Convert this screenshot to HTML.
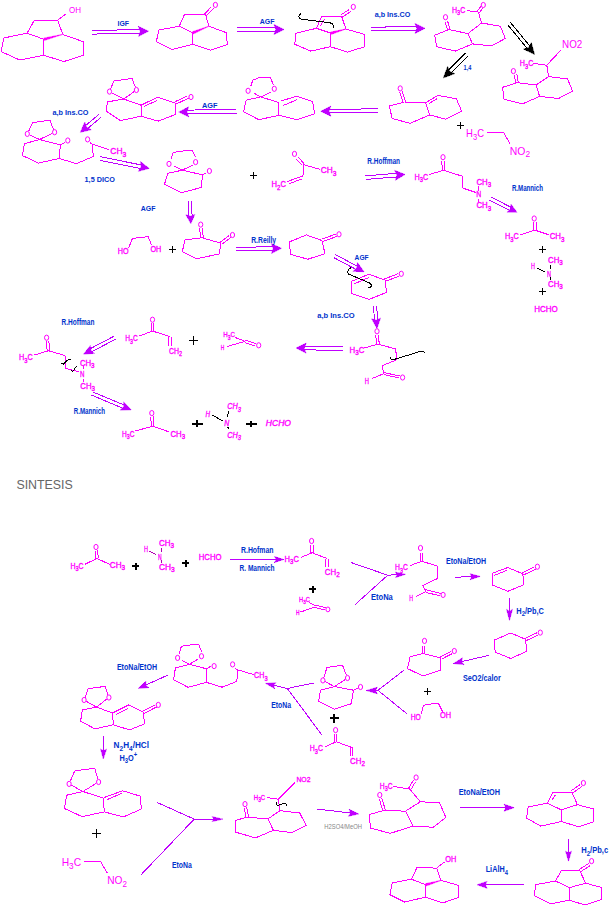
<!DOCTYPE html>
<html><head><meta charset="utf-8"><style>
html,body{margin:0;padding:0;background:#fff;width:610px;height:906px;overflow:hidden}
svg{display:block}
text{font-family:"Liberation Sans",sans-serif}
</style></head><body>
<svg width="610" height="906" viewBox="0 0 610 906" shape-rendering="crispEdges">
<polyline points="27,33.2 34.4,20.2 57.8,20.2 62.7,34.4" fill="none" stroke="#ff00ff" stroke-width="1.0" stroke-linejoin="round"/>
<line x1="27" y1="33.2" x2="44" y2="39.3" stroke="#ff00ff" stroke-width="1.0"/>
<polygon points="62.7,34.4 43.7,38.14 44.3,40.46" fill="#ff00ff" stroke="#ff00ff" stroke-width="0.6" stroke-linejoin="round"/>
<line x1="44" y1="39.3" x2="43.5" y2="55.3" stroke="#ff00ff" stroke-width="1.0"/>
<polyline points="27,33.2 3.7,38 1.2,51.6 19.7,60 43.5,55.3" fill="none" stroke="#ff00ff" stroke-width="1.0" stroke-linejoin="round"/>
<polyline points="62.7,34.4 83.6,41.8 83.6,55.3 64,61.5 43.5,55.3" fill="none" stroke="#ff00ff" stroke-width="1.0" stroke-linejoin="round"/>
<line x1="57.8" y1="20.2" x2="66.4" y2="13.5" stroke="#ff00ff" stroke-width="1.0"/>
<text x="69" y="12.92" font-size="9.5" fill="#ff00ff" font-weight="normal" font-style="normal" textLength="12" lengthAdjust="spacingAndGlyphs"><tspan dy="0">OH</tspan></text>
<line x1="92.04" y1="34.1" x2="140.54" y2="33.16" stroke="#c000ff" stroke-width="1.0"/>
<line x1="91.96" y1="30.5" x2="140.47" y2="29.56" stroke="#c000ff" stroke-width="1.0"/>
<polygon points="148.5,31.2 138.6,36.39 140.3,31.36 138.4,26.4" fill="#c000ff" stroke="#c000ff" stroke-width="0.5" stroke-linejoin="round"/>
<text x="117.5" y="25.72" font-size="7.84" fill="#0033cc" font-weight="bold" font-style="normal" textLength="11.5" lengthAdjust="spacingAndGlyphs"><tspan dy="0">IGF</tspan></text>
<polyline points="179.3,26.2 184.3,14.8 205.6,14.8 208.9,26.2" fill="none" stroke="#ff00ff" stroke-width="1.0" stroke-linejoin="round"/>
<line x1="179.3" y1="26.2" x2="193" y2="32.8" stroke="#ff00ff" stroke-width="1.0"/>
<polygon points="208.9,26.2 192.54,31.69 193.46,33.91" fill="#ff00ff" stroke="#ff00ff" stroke-width="0.6" stroke-linejoin="round"/>
<line x1="193" y1="32.8" x2="192.5" y2="44.3" stroke="#ff00ff" stroke-width="1.0"/>
<polyline points="179.3,26.2 159,30 156.3,41.5 172,49.5 192.5,44.3" fill="none" stroke="#ff00ff" stroke-width="1.0" stroke-linejoin="round"/>
<polyline points="208.9,26.2 226.3,32.7 227.3,44.6 210.6,50.2 192.5,44.3" fill="none" stroke="#ff00ff" stroke-width="1.0" stroke-linejoin="round"/>
<line x1="206.54" y1="15.69" x2="213.44" y2="8.39" stroke="#ff00ff" stroke-width="1.0"/>
<line x1="204.66" y1="13.91" x2="211.56" y2="6.61" stroke="#ff00ff" stroke-width="1.0"/>
<ellipse cx="215.4" cy="4.9" rx="2.1" ry="2.6" fill="none" stroke="#ff00ff" stroke-width="1" shape-rendering="auto"/>
<line x1="236.7" y1="31.3" x2="276" y2="31.3" stroke="#c000ff" stroke-width="1.0"/>
<line x1="236.7" y1="27.7" x2="276" y2="27.7" stroke="#c000ff" stroke-width="1.0"/>
<polygon points="284,29.5 274,34.5 275.8,29.5 274,24.5" fill="#c000ff" stroke="#c000ff" stroke-width="0.5" stroke-linejoin="round"/>
<text x="259.7" y="23.82" font-size="7.84" fill="#0033cc" font-weight="bold" font-style="normal" textLength="14.7" lengthAdjust="spacingAndGlyphs"><tspan dy="0">AGF</tspan></text>
<polyline points="316.4,28.3 321.8,16 341.5,16 345.9,29" fill="none" stroke="#ff00ff" stroke-width="1.0" stroke-linejoin="round"/>
<line x1="316.4" y1="28.3" x2="331" y2="33.2" stroke="#ff00ff" stroke-width="1.0"/>
<polygon points="345.9,29 330.67,32.05 331.33,34.35" fill="#ff00ff" stroke="#ff00ff" stroke-width="0.6" stroke-linejoin="round"/>
<line x1="331" y1="33.2" x2="330.4" y2="46.7" stroke="#ff00ff" stroke-width="1.0"/>
<polyline points="316.4,28.3 296,33.2 294.8,44.3 310.7,51.1 330.4,46.7" fill="none" stroke="#ff00ff" stroke-width="1.0" stroke-linejoin="round"/>
<polyline points="345.9,29 364.8,34.4 364.8,46.7 347.6,52.1 330.4,46.7" fill="none" stroke="#ff00ff" stroke-width="1.0" stroke-linejoin="round"/>
<line x1="342.21" y1="17.09" x2="350.71" y2="11.59" stroke="#ff00ff" stroke-width="1.0"/>
<line x1="340.79" y1="14.91" x2="349.29" y2="9.41" stroke="#ff00ff" stroke-width="1.0"/>
<ellipse cx="353.3" cy="6.9" rx="2.1" ry="2.6" fill="none" stroke="#ff00ff" stroke-width="1" shape-rendering="auto"/>
<line x1="324.4" y1="19.2" x2="320.5" y2="25.6" stroke="#ff00ff" stroke-width="1.0"/>
<path d="M300.8,13.8 C298,15.5 298,18.5 301.8,19.2 L329.4,22.7 C333,23.2 334,25 333.8,28.1" fill="none" stroke="#000" stroke-width="1"/>
<line x1="371.02" y1="30.8" x2="417.02" y2="30.2" stroke="#c000ff" stroke-width="1.0"/>
<line x1="370.98" y1="27.2" x2="416.98" y2="26.6" stroke="#c000ff" stroke-width="1.0"/>
<polygon points="425,28.3 415.07,33.43 416.8,28.41 414.94,23.43" fill="#c000ff" stroke="#c000ff" stroke-width="0.5" stroke-linejoin="round"/>
<text x="374.7" y="16.92" font-size="7.84" fill="#0033cc" font-weight="bold" font-style="normal" textLength="35.6" lengthAdjust="spacingAndGlyphs"><tspan dy="0">a,b Ins.CO</tspan></text>
<text x="452" y="12.52" font-size="8.4" fill="#ff00ff" font-weight="normal" font-style="normal" textLength="13.2" lengthAdjust="spacingAndGlyphs" stroke="#ff00ff" stroke-width="0.35"><tspan dy="0">H</tspan><tspan font-size="6.72" dy="2.35">3</tspan><tspan dy="-2.35">C</tspan></text>
<line x1="466.8" y1="10.7" x2="478.3" y2="11.8" stroke="#ff00ff" stroke-width="1.0"/>
<line x1="479.3" y1="12.63" x2="483" y2="8.13" stroke="#ff00ff" stroke-width="1.0"/>
<line x1="477.3" y1="10.97" x2="481" y2="6.47" stroke="#ff00ff" stroke-width="1.0"/>
<ellipse cx="483.3" cy="5" rx="2.1" ry="2.6" fill="none" stroke="#ff00ff" stroke-width="1" shape-rendering="auto"/>
<line x1="478.3" y1="11.8" x2="481.6" y2="23" stroke="#ff00ff" stroke-width="1.0"/>
<polyline points="481.6,23 500.4,26.2 505.3,38.5 491.4,45.9 472.5,43.9 468,33.6 481.6,23" fill="none" stroke="#ff00ff" stroke-width="1.0" stroke-linejoin="round"/>
<polyline points="468,33.6 448.8,29.5 434.8,35.2 436.5,46.7 455.3,51.1 472.5,43.9" fill="none" stroke="#ff00ff" stroke-width="1.0" stroke-linejoin="round"/>
<line x1="445.06" y1="21.68" x2="447.56" y2="29.88" stroke="#ff00ff" stroke-width="1.0"/>
<line x1="447.54" y1="20.92" x2="450.04" y2="29.12" stroke="#ff00ff" stroke-width="1.0"/>
<ellipse cx="445.5" cy="17.2" rx="2.1" ry="2.6" fill="none" stroke="#ff00ff" stroke-width="1" shape-rendering="auto"/>
<line x1="507.61" y1="24.75" x2="527.5" y2="48.77" stroke="#000000" stroke-width="1.0"/>
<line x1="510.39" y1="22.45" x2="530.27" y2="46.47" stroke="#000000" stroke-width="1.0"/>
<polygon points="534.5,54.4 523.63,49.12 528.75,47.45 531.34,42.74" fill="#000000" stroke="#000000" stroke-width="0.5" stroke-linejoin="round"/>
<line x1="465.42" y1="53.23" x2="448.33" y2="70.39" stroke="#000000" stroke-width="1.0"/>
<line x1="467.98" y1="55.77" x2="450.88" y2="72.93" stroke="#000000" stroke-width="1.0"/>
<polygon points="443.4,77.9 447.62,66.58 449.76,71.51 454.7,73.63" fill="#000000" stroke="#000000" stroke-width="0.5" stroke-linejoin="round"/>
<text x="463.6" y="69.82" font-size="7.84" fill="#0033cc" font-weight="bold" font-style="normal" textLength="7.8" lengthAdjust="spacingAndGlyphs"><tspan dy="0">1,4</tspan></text>
<text x="562.1" y="48" font-size="10" fill="#ff00ff" font-weight="normal" font-style="normal" textLength="20.2" lengthAdjust="spacingAndGlyphs"><tspan dy="0">NO2</tspan></text>
<line x1="561.2" y1="49.8" x2="546.8" y2="65.2" stroke="#ff00ff" stroke-width="1.0"/>
<text x="519.8" y="66.32" font-size="8.4" fill="#ff00ff" font-weight="normal" font-style="normal" textLength="13.5" lengthAdjust="spacingAndGlyphs" stroke="#ff00ff" stroke-width="0.35"><tspan dy="0">H</tspan><tspan font-size="6.72" dy="2.35">3</tspan><tspan dy="-2.35">C</tspan></text>
<line x1="533.3" y1="63.4" x2="546.8" y2="65.2" stroke="#ff00ff" stroke-width="1.0"/>
<line x1="546.8" y1="65.2" x2="548.6" y2="76.5" stroke="#ff00ff" stroke-width="1.0"/>
<polyline points="536,85 548.6,76.5 567.5,79 572.6,91 558.5,98.5 539.6,96.4 536,85 517,82.7 502.6,87.3 504.1,99.4 522.5,103.9 539.6,96.4" fill="none" stroke="#ff00ff" stroke-width="1.0" stroke-linejoin="round"/>
<line x1="514.32" y1="74.72" x2="515.72" y2="82.92" stroke="#ff00ff" stroke-width="1.0"/>
<line x1="516.88" y1="74.28" x2="518.28" y2="82.48" stroke="#ff00ff" stroke-width="1.0"/>
<ellipse cx="513.4" cy="71.1" rx="2.1" ry="2.6" fill="none" stroke="#ff00ff" stroke-width="1" shape-rendering="auto"/>
<line x1="110.56" y1="89.01" x2="113.9" y2="80.9" stroke="#ff00ff" stroke-width="1.0"/>
<line x1="113.9" y1="80.9" x2="132" y2="78.5" stroke="#ff00ff" stroke-width="1.0"/>
<line x1="132" y1="78.5" x2="135.4" y2="87.38" stroke="#ff00ff" stroke-width="1.0"/>
<line x1="134.12" y1="91.63" x2="123.8" y2="99" stroke="#ff00ff" stroke-width="1.0"/>
<line x1="123.8" y1="99" x2="111.99" y2="92.89" stroke="#ff00ff" stroke-width="1.0"/>
<ellipse cx="136.4" cy="90" rx="2.1" ry="2.6" fill="none" stroke="#ff00ff" stroke-width="1" shape-rendering="auto"/>
<ellipse cx="109.5" cy="91.6" rx="2.1" ry="2.6" fill="none" stroke="#ff00ff" stroke-width="1" shape-rendering="auto"/>
<polyline points="123.8,99 107.4,101.9 106.2,111.2 120.5,120.6 141,116.2 141,105.2 123.8,99" fill="none" stroke="#ff00ff" stroke-width="1.0" stroke-linejoin="round"/>
<polyline points="141,105.2 157.4,97.3 175.4,103 175.4,114.5 158.2,121.1 141,116.2" fill="none" stroke="#ff00ff" stroke-width="1.0" stroke-linejoin="round"/>
<line x1="144.3" y1="106.3" x2="157.4" y2="100.3" stroke="#ff00ff" stroke-width="1.0"/>
<line x1="175.96" y1="104.17" x2="188.56" y2="98.17" stroke="#ff00ff" stroke-width="1.0"/>
<line x1="174.84" y1="101.83" x2="187.44" y2="95.83" stroke="#ff00ff" stroke-width="1.0"/>
<ellipse cx="191" cy="97" rx="2.1" ry="2.6" fill="none" stroke="#ff00ff" stroke-width="1" shape-rendering="auto"/>
<line x1="236.48" y1="109.5" x2="186.68" y2="110.1" stroke="#c000ff" stroke-width="1.0"/>
<line x1="236.52" y1="113.1" x2="186.72" y2="113.7" stroke="#c000ff" stroke-width="1.0"/>
<polygon points="178.7,112 188.64,106.88 186.9,111.9 188.76,116.88" fill="#c000ff" stroke="#c000ff" stroke-width="0.5" stroke-linejoin="round"/>
<text x="202" y="108.32" font-size="7.84" fill="#0033cc" font-weight="bold" font-style="normal" textLength="15.5" lengthAdjust="spacingAndGlyphs"><tspan dy="0">AGF</tspan></text>
<polyline points="250.8,86.1 252.8,80.1 258.2,78 270.3,77.4 273.6,85.4" fill="none" stroke="#ff00ff" stroke-width="1.0" stroke-linejoin="round"/>
<line x1="254.1" y1="93.2" x2="260.8" y2="96.9" stroke="#ff00ff" stroke-width="1.0"/>
<line x1="260.8" y1="96.9" x2="270.9" y2="92.2" stroke="#ff00ff" stroke-width="1.0"/>
<ellipse cx="248.1" cy="90.8" rx="2.1" ry="2.6" fill="none" stroke="#ff00ff" stroke-width="1" shape-rendering="auto"/>
<ellipse cx="274.3" cy="88.8" rx="2.1" ry="2.6" fill="none" stroke="#ff00ff" stroke-width="1" shape-rendering="auto"/>
<polyline points="260.8,96.9 246.1,100.2 243.6,111.7 258.8,119.7 279,115.3 278.5,102.5 260.8,96.9" fill="none" stroke="#ff00ff" stroke-width="1.0" stroke-linejoin="round"/>
<polyline points="279,115.3 297.1,119.7 314.6,113.7 312.6,101.6 296.5,96.2 280.5,101.2" fill="none" stroke="#ff00ff" stroke-width="1.0" stroke-linejoin="round"/>
<line x1="283" y1="105.6" x2="297.1" y2="99.6" stroke="#ff00ff" stroke-width="1.0"/>
<line x1="377.58" y1="108.8" x2="328.78" y2="109.4" stroke="#c000ff" stroke-width="1.0"/>
<line x1="377.62" y1="112.4" x2="328.82" y2="113" stroke="#c000ff" stroke-width="1.0"/>
<polygon points="320.8,111.3 330.74,106.18 329,111.2 330.86,116.18" fill="#c000ff" stroke="#c000ff" stroke-width="0.5" stroke-linejoin="round"/>
<ellipse cx="400.2" cy="88.4" rx="2.1" ry="2.6" fill="none" stroke="#ff00ff" stroke-width="1" shape-rendering="auto"/>
<line x1="399.77" y1="92.41" x2="403.07" y2="102.41" stroke="#ff00ff" stroke-width="1.0"/>
<line x1="402.23" y1="91.59" x2="405.53" y2="101.59" stroke="#ff00ff" stroke-width="1.0"/>
<polyline points="425.6,102.8 404.3,102 389.5,106 392,118.4 410,123.3 429.7,115 425.6,102.8 437.9,95.4 456.3,98.7 461.6,111 446,119.2 429.7,115" fill="none" stroke="#ff00ff" stroke-width="1.0" stroke-linejoin="round"/>
<line x1="425.6" y1="102.8" x2="437.9" y2="95.4" stroke="#ff00ff" stroke-width="1.0"/>
<line x1="428.68" y1="103.75" x2="437.29" y2="98.57" stroke="#ff00ff" stroke-width="1.0"/>
<line x1="456.9" y1="125.3" x2="463.9" y2="125.3" stroke="#000000" stroke-width="1"/>
<line x1="460.4" y1="121.8" x2="460.4" y2="128.8" stroke="#000000" stroke-width="1"/>
<text x="466.1" y="136.88" font-size="10.5" fill="#ff00ff" font-weight="normal" font-style="normal" textLength="17.9" lengthAdjust="spacingAndGlyphs"><tspan dy="0">H</tspan><tspan font-size="8.4" dy="2.94">3</tspan><tspan dy="-2.94">C</tspan></text>
<polyline points="487.1,132.5 503.7,132.5 509.8,143.5" fill="none" stroke="#ff00ff" stroke-width="1.0" stroke-linejoin="round"/>
<text x="509.8" y="154.61" font-size="10.3" fill="#ff00ff" font-weight="normal" font-style="normal" textLength="20.3" lengthAdjust="spacingAndGlyphs"><tspan dy="0">NO</tspan><tspan font-size="8.24" dy="2.88">2</tspan></text>
<line x1="98.85" y1="114.52" x2="85.3" y2="125.8" stroke="#c000ff" stroke-width="1.0"/>
<line x1="101.15" y1="117.28" x2="87.6" y2="128.56" stroke="#c000ff" stroke-width="1.0"/>
<polygon points="80.3,132.3 84.79,122.06 86.6,127.05 91.18,129.74" fill="#c000ff" stroke="#c000ff" stroke-width="0.5" stroke-linejoin="round"/>
<text x="52.5" y="114.82" font-size="7.84" fill="#0033cc" font-weight="bold" font-style="normal" textLength="36" lengthAdjust="spacingAndGlyphs"><tspan dy="0">a,b Ins.CO</tspan></text>
<line x1="28.53" y1="131.39" x2="32.9" y2="122.5" stroke="#ff00ff" stroke-width="1.0"/>
<line x1="32.9" y1="122.5" x2="49.9" y2="120.3" stroke="#ff00ff" stroke-width="1.0"/>
<line x1="49.9" y1="120.3" x2="53.57" y2="129.6" stroke="#ff00ff" stroke-width="1.0"/>
<line x1="52.08" y1="133.42" x2="39.5" y2="139.5" stroke="#ff00ff" stroke-width="1.0"/>
<line x1="39.5" y1="139.5" x2="29.84" y2="135.07" stroke="#ff00ff" stroke-width="1.0"/>
<ellipse cx="54.6" cy="132.2" rx="2.1" ry="2.6" fill="none" stroke="#ff00ff" stroke-width="1" shape-rendering="auto"/>
<ellipse cx="27.3" cy="133.9" rx="2.1" ry="2.6" fill="none" stroke="#ff00ff" stroke-width="1" shape-rendering="auto"/>
<polyline points="39.5,139.5 24.4,143.7 22.5,155.6 38.6,163.1 59.3,158.4 60.3,144.8 39.5,139.5" fill="none" stroke="#ff00ff" stroke-width="1.0" stroke-linejoin="round"/>
<line x1="60.3" y1="144.8" x2="65" y2="142.4" stroke="#ff00ff" stroke-width="1.0"/>
<ellipse cx="67.8" cy="140.5" rx="2.1" ry="2.6" fill="none" stroke="#ff00ff" stroke-width="1" shape-rendering="auto"/>
<polyline points="59.3,158.4 76.3,163.7 93.3,156.5 92.4,144.2" fill="none" stroke="#ff00ff" stroke-width="1.0" stroke-linejoin="round"/>
<ellipse cx="87.6" cy="139.4" rx="2.1" ry="2.6" fill="none" stroke="#ff00ff" stroke-width="1" shape-rendering="auto"/>
<line x1="92.4" y1="144.2" x2="90.2" y2="142.8" stroke="#ff00ff" stroke-width="1.0"/>
<line x1="92.4" y1="144.2" x2="109.3" y2="149.9" stroke="#ff00ff" stroke-width="1.0"/>
<text x="110.3" y="154.22" font-size="8.4" fill="#ff00ff" font-weight="normal" font-style="normal" textLength="16" lengthAdjust="spacingAndGlyphs" stroke="#ff00ff" stroke-width="0.35"><tspan dy="0">CH</tspan><tspan font-size="6.72" dy="2.35">3</tspan></text>
<line x1="99.64" y1="160.26" x2="141" y2="168.59" stroke="#c000ff" stroke-width="1.0"/>
<line x1="100.36" y1="156.74" x2="141.71" y2="165.06" stroke="#c000ff" stroke-width="1.0"/>
<polygon points="149.2,168.4 138.41,171.33 141.16,166.78 140.38,161.53" fill="#c000ff" stroke="#c000ff" stroke-width="0.5" stroke-linejoin="round"/>
<text x="84.6" y="181.72" font-size="7.84" fill="#0033cc" font-weight="bold" font-style="normal" textLength="30.2" lengthAdjust="spacingAndGlyphs"><tspan dy="0">1,5 DICO</tspan></text>
<polyline points="171.3,159.4 172.6,153.1 178,151.3 192,150.4 195.6,157.2" fill="none" stroke="#ff00ff" stroke-width="1.0" stroke-linejoin="round"/>
<line x1="174.4" y1="166.2" x2="182.1" y2="170.2" stroke="#ff00ff" stroke-width="1.0"/>
<line x1="182.1" y1="170.2" x2="192.5" y2="165.3" stroke="#ff00ff" stroke-width="1.0"/>
<ellipse cx="169" cy="163.9" rx="2.1" ry="2.6" fill="none" stroke="#ff00ff" stroke-width="1" shape-rendering="auto"/>
<ellipse cx="195.6" cy="162.1" rx="2.1" ry="2.6" fill="none" stroke="#ff00ff" stroke-width="1" shape-rendering="auto"/>
<polyline points="182.1,170.2 167.7,173.4 164.5,184.2 181.2,192.8 201.5,187.4 202.4,174.8 182.1,170.2" fill="none" stroke="#ff00ff" stroke-width="1.0" stroke-linejoin="round"/>
<line x1="202.4" y1="174.8" x2="206.5" y2="172.8" stroke="#ff00ff" stroke-width="1.0"/>
<ellipse cx="209.4" cy="171" rx="2.1" ry="2.6" fill="none" stroke="#ff00ff" stroke-width="1" shape-rendering="auto"/>
<line x1="249.9" y1="175" x2="256.9" y2="175" stroke="#000000" stroke-width="1"/>
<line x1="253.4" y1="171.5" x2="253.4" y2="178.5" stroke="#000000" stroke-width="1"/>
<ellipse cx="294.5" cy="153.9" rx="2.1" ry="2.6" fill="none" stroke="#ff00ff" stroke-width="1" shape-rendering="auto"/>
<line x1="295.87" y1="158.71" x2="302.37" y2="165.41" stroke="#ff00ff" stroke-width="1.0"/>
<line x1="297.73" y1="156.89" x2="304.23" y2="163.59" stroke="#ff00ff" stroke-width="1.0"/>
<polyline points="320,169.3 303.7,164.7 303,175.8" fill="none" stroke="#ff00ff" stroke-width="1.0" stroke-linejoin="round"/>
<line x1="303" y1="175.8" x2="287" y2="181.7" stroke="#ff00ff" stroke-width="1.0"/>
<line x1="302.3" y1="178.83" x2="289.5" y2="183.55" stroke="#ff00ff" stroke-width="1.0"/>
<text x="320.7" y="173.32" font-size="8.4" fill="#ff00ff" font-weight="normal" font-style="normal" textLength="15.8" lengthAdjust="spacingAndGlyphs" stroke="#ff00ff" stroke-width="0.35"><tspan dy="0">CH</tspan><tspan font-size="6.72" dy="2.35">3</tspan></text>
<text x="271.6" y="187.42" font-size="8.4" fill="#ff00ff" font-weight="normal" font-style="normal" textLength="14.4" lengthAdjust="spacingAndGlyphs" stroke="#ff00ff" stroke-width="0.35"><tspan dy="0">H</tspan><tspan font-size="6.72" dy="2.35">2</tspan><tspan dy="-2.35">C</tspan></text>
<line x1="365.74" y1="179.39" x2="397.17" y2="176.92" stroke="#c000ff" stroke-width="1.0"/>
<line x1="365.46" y1="175.81" x2="396.88" y2="173.33" stroke="#c000ff" stroke-width="1.0"/>
<polygon points="405,174.5 395.42,180.27 396.83,175.14 394.64,170.3" fill="#c000ff" stroke="#c000ff" stroke-width="0.5" stroke-linejoin="round"/>
<text x="367.3" y="164.23" font-size="8.96" fill="#0033cc" font-weight="bold" font-style="normal" textLength="32.7" lengthAdjust="spacingAndGlyphs"><tspan dy="0">R.Hoffman</tspan></text>
<ellipse cx="443" cy="157.2" rx="2.1" ry="2.6" fill="none" stroke="#ff00ff" stroke-width="1" shape-rendering="auto"/>
<line x1="441.7" y1="160.79" x2="442.4" y2="170.39" stroke="#ff00ff" stroke-width="1.0"/>
<line x1="444.3" y1="160.61" x2="445" y2="170.21" stroke="#ff00ff" stroke-width="1.0"/>
<text x="414.5" y="179.82" font-size="8.4" fill="#ff00ff" font-weight="normal" font-style="normal" textLength="13.7" lengthAdjust="spacingAndGlyphs" stroke="#ff00ff" stroke-width="0.35"><tspan dy="0">H</tspan><tspan font-size="6.72" dy="2.35">3</tspan><tspan dy="-2.35">C</tspan></text>
<polyline points="429.3,174.4 443.7,170.3 462,176.1 463,188.2 476,192.5" fill="none" stroke="#ff00ff" stroke-width="1.0" stroke-linejoin="round"/>
<text x="476.2" y="197.42" font-size="8.4" fill="#ff00ff" font-weight="normal" font-style="normal" textLength="5" lengthAdjust="spacingAndGlyphs" stroke="#ff00ff" stroke-width="0.35"><tspan dy="0">N</tspan></text>
<line x1="478.7" y1="186" x2="478.7" y2="190.5" stroke="#ff00ff" stroke-width="1.0"/>
<line x1="478.7" y1="198.5" x2="478.7" y2="202" stroke="#ff00ff" stroke-width="1.0"/>
<text x="476.4" y="185.02" font-size="8.4" fill="#ff00ff" font-weight="normal" font-style="normal" textLength="14.8" lengthAdjust="spacingAndGlyphs" stroke="#ff00ff" stroke-width="0.35"><tspan dy="0">CH</tspan><tspan font-size="6.72" dy="2.35">3</tspan></text>
<text x="476.4" y="208.42" font-size="8.4" fill="#ff00ff" font-weight="normal" font-style="normal" textLength="14.8" lengthAdjust="spacingAndGlyphs" stroke="#ff00ff" stroke-width="0.35"><tspan dy="0">CH</tspan><tspan font-size="6.72" dy="2.35">3</tspan></text>
<line x1="489.42" y1="200.01" x2="509.82" y2="210.52" stroke="#c000ff" stroke-width="1.0"/>
<line x1="490.98" y1="196.99" x2="511.38" y2="207.49" stroke="#c000ff" stroke-width="1.0"/>
<polygon points="517,212.3 506.94,212.18 510.44,208.92 511.06,204.18" fill="#c000ff" stroke="#c000ff" stroke-width="0.5" stroke-linejoin="round"/>
<text x="511.9" y="191.22" font-size="8.4" fill="#0033cc" font-weight="bold" font-style="normal" textLength="31" lengthAdjust="spacingAndGlyphs"><tspan dy="0">R.Mannich</tspan></text>
<ellipse cx="534.2" cy="218.5" rx="2.1" ry="2.6" fill="none" stroke="#ff00ff" stroke-width="1" shape-rendering="auto"/>
<line x1="533.7" y1="222" x2="533.7" y2="230.2" stroke="#ff00ff" stroke-width="1.0"/>
<line x1="536.3" y1="222" x2="536.3" y2="230.2" stroke="#ff00ff" stroke-width="1.0"/>
<text x="505" y="239.42" font-size="8.4" fill="#ff00ff" font-weight="normal" font-style="normal" textLength="13.8" lengthAdjust="spacingAndGlyphs" stroke="#ff00ff" stroke-width="0.35"><tspan dy="0">H</tspan><tspan font-size="6.72" dy="2.35">3</tspan><tspan dy="-2.35">C</tspan></text>
<polyline points="520.5,234.7 535,230.2 548.7,234.7" fill="none" stroke="#ff00ff" stroke-width="1.0" stroke-linejoin="round"/>
<text x="549.7" y="239.42" font-size="8.4" fill="#ff00ff" font-weight="normal" font-style="normal" textLength="14.8" lengthAdjust="spacingAndGlyphs" stroke="#ff00ff" stroke-width="0.35"><tspan dy="0">CH</tspan><tspan font-size="6.72" dy="2.35">3</tspan></text>
<line x1="539.4" y1="249.5" x2="546.4" y2="249.5" stroke="#000000" stroke-width="1"/>
<line x1="542.9" y1="246" x2="542.9" y2="253" stroke="#000000" stroke-width="1"/>
<text x="531" y="269.12" font-size="8.4" fill="#ff00ff" font-weight="normal" font-style="normal" textLength="3.9" lengthAdjust="spacingAndGlyphs" stroke="#ff00ff" stroke-width="0.35"><tspan dy="0">H</tspan></text>
<line x1="537.2" y1="268.1" x2="544.8" y2="271.7" stroke="#000000" stroke-width="1.0"/>
<text x="546.9" y="277.02" font-size="8.4" fill="#ff00ff" font-weight="normal" font-style="normal" textLength="4" lengthAdjust="spacingAndGlyphs" stroke="#ff00ff" stroke-width="0.35"><tspan dy="0">N</tspan></text>
<line x1="550.7" y1="265.2" x2="550.7" y2="269.4" stroke="#000000" stroke-width="1.0"/>
<line x1="550.7" y1="277" x2="550.7" y2="279.6" stroke="#000000" stroke-width="1.0"/>
<text x="548" y="263.12" font-size="8.4" fill="#ff00ff" font-weight="normal" font-style="normal" textLength="14.8" lengthAdjust="spacingAndGlyphs" stroke="#ff00ff" stroke-width="0.35"><tspan dy="0">CH</tspan><tspan font-size="6.72" dy="2.35">3</tspan></text>
<text x="548" y="287.02" font-size="8.4" fill="#ff00ff" font-weight="normal" font-style="normal" textLength="14.8" lengthAdjust="spacingAndGlyphs" stroke="#ff00ff" stroke-width="0.35"><tspan dy="0">CH</tspan><tspan font-size="6.72" dy="2.35">3</tspan></text>
<line x1="539.4" y1="291.5" x2="546.4" y2="291.5" stroke="#000000" stroke-width="1"/>
<line x1="542.9" y1="288" x2="542.9" y2="295" stroke="#000000" stroke-width="1"/>
<text x="534.2" y="311.72" font-size="8.4" fill="#ff00ff" font-weight="normal" font-style="normal" textLength="23.5" lengthAdjust="spacingAndGlyphs" stroke="#ff00ff" stroke-width="0.35"><tspan dy="0">HCHO</tspan></text>
<text x="140.7" y="210.72" font-size="7.84" fill="#0033cc" font-weight="bold" font-style="normal" textLength="14.7" lengthAdjust="spacingAndGlyphs"><tspan dy="0">AGF</tspan></text>
<line x1="188.15" y1="200.77" x2="188.84" y2="216.48" stroke="#c000ff" stroke-width="1.0"/>
<line x1="191.45" y1="200.63" x2="192.13" y2="216.33" stroke="#c000ff" stroke-width="1.0"/>
<polygon points="190.8,223.6 185.91,214.8 190.48,216.23 194.9,214.41" fill="#c000ff" stroke="#c000ff" stroke-width="0.5" stroke-linejoin="round"/>
<ellipse cx="200.7" cy="224.6" rx="2.1" ry="2.6" fill="none" stroke="#ff00ff" stroke-width="1" shape-rendering="auto"/>
<line x1="199.61" y1="228.15" x2="200.71" y2="237.85" stroke="#ff00ff" stroke-width="1.0"/>
<line x1="202.19" y1="227.85" x2="203.29" y2="237.55" stroke="#ff00ff" stroke-width="1.0"/>
<polyline points="202,237.7 185,240 182.3,251.5 196.4,258.7 219.3,254 221,243.3 202,237.7" fill="none" stroke="#ff00ff" stroke-width="1.0" stroke-linejoin="round"/>
<line x1="221.78" y1="244.34" x2="230.78" y2="237.54" stroke="#ff00ff" stroke-width="1.0"/>
<line x1="220.22" y1="242.26" x2="229.22" y2="235.46" stroke="#ff00ff" stroke-width="1.0"/>
<ellipse cx="232.5" cy="235" rx="2.1" ry="2.6" fill="none" stroke="#ff00ff" stroke-width="1" shape-rendering="auto"/>
<line x1="169.3" y1="249.2" x2="176.3" y2="249.2" stroke="#000000" stroke-width="1"/>
<line x1="172.8" y1="245.7" x2="172.8" y2="252.7" stroke="#000000" stroke-width="1"/>
<text x="117.7" y="253.82" font-size="8.4" fill="#ff00ff" font-weight="normal" font-style="normal" textLength="10.8" lengthAdjust="spacingAndGlyphs" stroke="#ff00ff" stroke-width="0.35"><tspan dy="0">HO</tspan></text>
<polyline points="128.5,248.2 132.5,238.4 148.2,236.7 151.5,245" fill="none" stroke="#ff00ff" stroke-width="1.0" stroke-linejoin="round"/>
<text x="150.5" y="251.92" font-size="8.4" fill="#ff00ff" font-weight="normal" font-style="normal" textLength="10.8" lengthAdjust="spacingAndGlyphs" stroke="#ff00ff" stroke-width="0.35"><tspan dy="0">OH</tspan></text>
<line x1="236.24" y1="251" x2="273.44" y2="250.26" stroke="#c000ff" stroke-width="1.0"/>
<line x1="236.16" y1="247.4" x2="273.37" y2="246.66" stroke="#c000ff" stroke-width="1.0"/>
<polygon points="281.4,248.3 271.5,253.5 273.2,248.46 271.3,243.5" fill="#c000ff" stroke="#c000ff" stroke-width="0.5" stroke-linejoin="round"/>
<text x="251.2" y="242.92" font-size="8.4" fill="#0033cc" font-weight="bold" font-style="normal" textLength="24.9" lengthAdjust="spacingAndGlyphs"><tspan dy="0">R.Reilly</tspan></text>
<polygon points="306.3,234.9 321.9,240.5 325,253.6 307.9,259.2 290.7,254.5 289.2,242" fill="none" stroke="#ff00ff" stroke-width="1.0" stroke-linejoin="round"/>
<line x1="322.34" y1="241.72" x2="336.94" y2="236.42" stroke="#ff00ff" stroke-width="1.0"/>
<line x1="321.46" y1="239.28" x2="336.06" y2="233.98" stroke="#ff00ff" stroke-width="1.0"/>
<ellipse cx="339" cy="234.3" rx="2.1" ry="2.6" fill="none" stroke="#ff00ff" stroke-width="1" shape-rendering="auto"/>
<line x1="333.6" y1="257.5" x2="356.14" y2="269.45" stroke="#c000ff" stroke-width="1.0"/>
<line x1="335.2" y1="254.5" x2="357.73" y2="266.45" stroke="#c000ff" stroke-width="1.0"/>
<polygon points="364,271.7 352.82,271.43 356.76,267.86 357.51,262.6" fill="#c000ff" stroke="#c000ff" stroke-width="0.5" stroke-linejoin="round"/>
<text x="354.6" y="259.52" font-size="7.84" fill="#0033cc" font-weight="bold" font-style="normal" textLength="14" lengthAdjust="spacingAndGlyphs"><tspan dy="0">AGF</tspan></text>
<polygon points="368.8,274.3 385.3,280.1 386.4,292.4 369.3,299.3 351.2,293.4 351.7,281.2" fill="none" stroke="#ff00ff" stroke-width="1.0" stroke-linejoin="round"/>
<line x1="384.67" y1="281.61" x2="399.27" y2="276.01" stroke="#ff00ff" stroke-width="1.0"/>
<line x1="383.73" y1="279.19" x2="398.33" y2="273.59" stroke="#ff00ff" stroke-width="1.0"/>
<ellipse cx="401.3" cy="273.8" rx="2.1" ry="2.6" fill="none" stroke="#ff00ff" stroke-width="1" shape-rendering="auto"/>
<line x1="354.4" y1="283.8" x2="368.8" y2="277.5" stroke="#ff00ff" stroke-width="1.0"/>
<path d="M350.7,267.9 C347,269.5 346.5,273.5 350.1,274.8 L365.6,281.2 C372,283.5 372.5,286.5 370.5,287 L367.7,287" fill="none" stroke="#000" stroke-width="1"/>
<text x="317.2" y="318.12" font-size="7.84" fill="#0033cc" font-weight="bold" font-style="normal" textLength="37.4" lengthAdjust="spacingAndGlyphs"><tspan dy="0">a,b Ins.CO</tspan></text>
<line x1="373.31" y1="305.95" x2="374.67" y2="320.58" stroke="#c000ff" stroke-width="1.0"/>
<line x1="376.49" y1="305.65" x2="377.85" y2="320.29" stroke="#c000ff" stroke-width="1.0"/>
<polygon points="377,328.4 371.59,318.86 376.24,320.24 380.56,318.03" fill="#c000ff" stroke="#c000ff" stroke-width="0.5" stroke-linejoin="round"/>
<ellipse cx="377" cy="331.3" rx="2.1" ry="2.6" fill="none" stroke="#ff00ff" stroke-width="1" shape-rendering="auto"/>
<line x1="375.71" y1="335.35" x2="376.71" y2="344.25" stroke="#ff00ff" stroke-width="1.0"/>
<line x1="378.29" y1="335.05" x2="379.29" y2="343.95" stroke="#ff00ff" stroke-width="1.0"/>
<text x="349.5" y="353.02" font-size="8.4" fill="#ff00ff" font-weight="normal" font-style="normal" textLength="14.8" lengthAdjust="spacingAndGlyphs" stroke="#ff00ff" stroke-width="0.35"><tspan dy="0">H</tspan><tspan font-size="6.72" dy="2.35">3</tspan><tspan dy="-2.35">C</tspan></text>
<polyline points="364.3,348 378,344.1 395.7,349 396.7,359.8 382,365.7 384,373.6" fill="none" stroke="#ff00ff" stroke-width="1.0" stroke-linejoin="round"/>
<line x1="383.79" y1="374.58" x2="399.29" y2="377.98" stroke="#ff00ff" stroke-width="1.0"/>
<line x1="384.21" y1="372.62" x2="399.71" y2="376.02" stroke="#ff00ff" stroke-width="1.0"/>
<ellipse cx="402.6" cy="377.5" rx="2.1" ry="2.6" fill="none" stroke="#ff00ff" stroke-width="1" shape-rendering="auto"/>
<text x="364.8" y="383.52" font-size="8.4" fill="#ff00ff" font-weight="normal" font-style="normal" textLength="4.2" lengthAdjust="spacingAndGlyphs" stroke="#ff00ff" stroke-width="0.35"><tspan dy="0">H</tspan></text>
<line x1="372" y1="378.5" x2="384" y2="373.6" stroke="#ff00ff" stroke-width="1.0"/>
<path d="M389.8,356.9 C390.5,359.5 392,360.3 394,359.5 L418.4,352 C421.5,351 424.5,351.5 425.3,353" fill="none" stroke="#000" stroke-width="1"/>
<line x1="343.42" y1="346.7" x2="304.12" y2="346.28" stroke="#c000ff" stroke-width="1.0"/>
<line x1="343.38" y1="350.3" x2="304.08" y2="349.88" stroke="#c000ff" stroke-width="1.0"/>
<polygon points="296.1,348 306.15,343.11 304.3,348.09 306.05,353.11" fill="#c000ff" stroke="#c000ff" stroke-width="0.5" stroke-linejoin="round"/>
<text x="223.3" y="337.42" font-size="7.84" fill="#ff00ff" font-weight="normal" font-style="normal" textLength="11.7" lengthAdjust="spacingAndGlyphs" stroke="#ff00ff" stroke-width="0.35"><tspan dy="0">H</tspan><tspan font-size="6.27" dy="2.2">3</tspan><tspan dy="-2.2">C</tspan></text>
<text x="220.8" y="350.02" font-size="7.84" fill="#ff00ff" font-weight="normal" font-style="normal" textLength="3.5" lengthAdjust="spacingAndGlyphs" stroke="#ff00ff" stroke-width="0.35"><tspan dy="0">H</tspan></text>
<line x1="227.2" y1="346.5" x2="245" y2="341.3" stroke="#ff00ff" stroke-width="1.0"/>
<line x1="235" y1="337.4" x2="245" y2="341.3" stroke="#ff00ff" stroke-width="1.0"/>
<line x1="244.59" y1="342.53" x2="255.59" y2="346.23" stroke="#ff00ff" stroke-width="1.0"/>
<line x1="245.41" y1="340.07" x2="256.41" y2="343.77" stroke="#ff00ff" stroke-width="1.0"/>
<ellipse cx="258.7" cy="345.3" rx="2.1" ry="2.6" fill="none" stroke="#ff00ff" stroke-width="1" shape-rendering="auto"/>
<line x1="189.2" y1="340.5" x2="197.6" y2="340.5" stroke="#000000" stroke-width="1"/>
<line x1="193.4" y1="336.3" x2="193.4" y2="344.7" stroke="#000000" stroke-width="1"/>
<ellipse cx="152.5" cy="319.7" rx="2.1" ry="2.6" fill="none" stroke="#ff00ff" stroke-width="1" shape-rendering="auto"/>
<line x1="151.2" y1="323" x2="151.2" y2="331.1" stroke="#ff00ff" stroke-width="1.0"/>
<line x1="153.8" y1="323" x2="153.8" y2="331.1" stroke="#ff00ff" stroke-width="1.0"/>
<text x="125.2" y="341.42" font-size="8.4" fill="#ff00ff" font-weight="normal" font-style="normal" textLength="12.5" lengthAdjust="spacingAndGlyphs" stroke="#ff00ff" stroke-width="0.35"><tspan dy="0">H</tspan><tspan font-size="6.72" dy="2.35">3</tspan><tspan dy="-2.35">C</tspan></text>
<polyline points="139.3,336 152.5,331.1 170.3,336.6" fill="none" stroke="#ff00ff" stroke-width="1.0" stroke-linejoin="round"/>
<line x1="168.7" y1="336.8" x2="168.7" y2="346" stroke="#ff00ff" stroke-width="1.0"/>
<line x1="171.1" y1="336.8" x2="171.1" y2="346" stroke="#ff00ff" stroke-width="1.0"/>
<text x="168.9" y="353.82" font-size="8.4" fill="#ff00ff" font-weight="normal" font-style="normal" textLength="13.1" lengthAdjust="spacingAndGlyphs" stroke="#ff00ff" stroke-width="0.35"><tspan dy="0">CH</tspan><tspan font-size="6.72" dy="2.35">2</tspan></text>
<line x1="114.01" y1="336.2" x2="89.89" y2="348.87" stroke="#c000ff" stroke-width="1.0"/>
<line x1="115.59" y1="339.2" x2="91.47" y2="351.88" stroke="#c000ff" stroke-width="1.0"/>
<polygon points="83.6,354.1 90.36,345.46 90.86,350.28 94.55,353.43" fill="#c000ff" stroke="#c000ff" stroke-width="0.5" stroke-linejoin="round"/>
<text x="61.6" y="325.32" font-size="8.4" fill="#0033cc" font-weight="bold" font-style="normal" textLength="32.8" lengthAdjust="spacingAndGlyphs"><tspan dy="0">R.Hoffman</tspan></text>
<ellipse cx="46.6" cy="337.7" rx="2.1" ry="2.6" fill="none" stroke="#ff00ff" stroke-width="1" shape-rendering="auto"/>
<line x1="46.21" y1="341.13" x2="47.21" y2="350.93" stroke="#ff00ff" stroke-width="1.0"/>
<line x1="48.79" y1="340.87" x2="49.79" y2="350.67" stroke="#ff00ff" stroke-width="1.0"/>
<text x="19" y="360.42" font-size="8.4" fill="#ff00ff" font-weight="normal" font-style="normal" textLength="13.8" lengthAdjust="spacingAndGlyphs" stroke="#ff00ff" stroke-width="0.35"><tspan dy="0">H</tspan><tspan font-size="6.72" dy="2.35">3</tspan><tspan dy="-2.35">C</tspan></text>
<polyline points="34.4,355 48.5,350.8 64.5,355.4 65.3,356.5 65.5,368.3 78.8,371.7" fill="none" stroke="#ff00ff" stroke-width="1.0" stroke-linejoin="round"/>
<text x="79.9" y="377.02" font-size="8.4" fill="#ff00ff" font-weight="normal" font-style="normal" textLength="4.4" lengthAdjust="spacingAndGlyphs" stroke="#ff00ff" stroke-width="0.35"><tspan dy="0">N</tspan></text>
<line x1="83.3" y1="366" x2="83.3" y2="369.4" stroke="#ff00ff" stroke-width="1.0"/>
<line x1="83.3" y1="378.5" x2="83.3" y2="381.5" stroke="#ff00ff" stroke-width="1.0"/>
<text x="79.9" y="365.52" font-size="8.4" fill="#ff00ff" font-weight="normal" font-style="normal" textLength="14.7" lengthAdjust="spacingAndGlyphs" stroke="#ff00ff" stroke-width="0.35"><tspan dy="0">CH</tspan><tspan font-size="6.72" dy="2.35">3</tspan></text>
<text x="80.3" y="389.02" font-size="8.4" fill="#ff00ff" font-weight="normal" font-style="normal" textLength="14.7" lengthAdjust="spacingAndGlyphs" stroke="#ff00ff" stroke-width="0.35"><tspan dy="0">CH</tspan><tspan font-size="6.72" dy="2.35">3</tspan></text>
<path d="M61.4,363.1 L63.3,364.2 L68.4,359.4 L71,359.2 M71.4,370.5 L72.9,371.5 L76.2,366.4 L77,366" fill="none" stroke="#000" stroke-width="1"/>
<line x1="91.15" y1="394.97" x2="123.06" y2="408.29" stroke="#c000ff" stroke-width="1.0"/>
<line x1="92.45" y1="391.83" x2="124.37" y2="405.15" stroke="#c000ff" stroke-width="1.0"/>
<polygon points="131.1,409.8 120.14,410.1 123.53,406.64 123.6,401.8" fill="#c000ff" stroke="#c000ff" stroke-width="0.5" stroke-linejoin="round"/>
<text x="73.8" y="413.82" font-size="8.4" fill="#0033cc" font-weight="bold" font-style="normal" textLength="31.2" lengthAdjust="spacingAndGlyphs"><tspan dy="0">R.Mannich</tspan></text>
<ellipse cx="151.8" cy="413.1" rx="2.1" ry="2.6" fill="none" stroke="#ff00ff" stroke-width="1" shape-rendering="auto"/>
<line x1="150.9" y1="416.54" x2="151.2" y2="426.24" stroke="#ff00ff" stroke-width="1.0"/>
<line x1="153.5" y1="416.46" x2="153.8" y2="426.16" stroke="#ff00ff" stroke-width="1.0"/>
<text x="122" y="436.82" font-size="8.4" fill="#ff00ff" font-weight="normal" font-style="normal" textLength="12.4" lengthAdjust="spacingAndGlyphs" stroke="#ff00ff" stroke-width="0.35"><tspan dy="0">H</tspan><tspan font-size="6.72" dy="2.35">3</tspan><tspan dy="-2.35">C</tspan></text>
<polyline points="135,431.1 152.5,426.2 168.9,431.8" fill="none" stroke="#ff00ff" stroke-width="1.0" stroke-linejoin="round"/>
<text x="170.5" y="436.82" font-size="8.4" fill="#ff00ff" font-weight="normal" font-style="normal" textLength="14.7" lengthAdjust="spacingAndGlyphs" stroke="#ff00ff" stroke-width="0.35"><tspan dy="0">CH</tspan><tspan font-size="6.72" dy="2.35">3</tspan></text>
<line x1="192.1" y1="423.5" x2="202.5" y2="423.5" stroke="#000000" stroke-width="2"/>
<line x1="197.3" y1="420.4" x2="197.3" y2="426.6" stroke="#000000" stroke-width="2"/>
<text x="205.5" y="417.22" font-size="8.4" fill="#ff00ff" font-weight="normal" font-style="italic" textLength="4.5" lengthAdjust="spacingAndGlyphs" stroke="#ff00ff" stroke-width="0.35"><tspan dy="0">H</tspan></text>
<line x1="212" y1="414.9" x2="222.5" y2="420.8" stroke="#000000" stroke-width="1.0"/>
<text x="224.3" y="425.82" font-size="8.4" fill="#ff00ff" font-weight="normal" font-style="italic" textLength="5" lengthAdjust="spacingAndGlyphs" stroke="#ff00ff" stroke-width="0.35"><tspan dy="0">N</tspan></text>
<text x="227.2" y="409.32" font-size="8.4" fill="#ff00ff" font-weight="normal" font-style="italic" textLength="13.8" lengthAdjust="spacingAndGlyphs" stroke="#ff00ff" stroke-width="0.35"><tspan dy="0">CH</tspan><tspan font-size="6.72" dy="2.35">3</tspan></text>
<text x="227.2" y="437.62" font-size="8.4" fill="#ff00ff" font-weight="normal" font-style="italic" textLength="13.8" lengthAdjust="spacingAndGlyphs" stroke="#ff00ff" stroke-width="0.35"><tspan dy="0">CH</tspan><tspan font-size="6.72" dy="2.35">3</tspan></text>
<line x1="228.7" y1="411.2" x2="227.4" y2="416.7" stroke="#000000" stroke-width="1.0"/>
<line x1="227.4" y1="426.6" x2="228.7" y2="428.4" stroke="#000000" stroke-width="1.0"/>
<line x1="246.2" y1="424.3" x2="256.6" y2="424.3" stroke="#000000" stroke-width="2"/>
<line x1="251.4" y1="421.2" x2="251.4" y2="427.4" stroke="#000000" stroke-width="2"/>
<text x="265.8" y="425.82" font-size="8.4" fill="#ff00ff" font-weight="normal" font-style="italic" textLength="25.2" lengthAdjust="spacingAndGlyphs" stroke="#ff00ff" stroke-width="0.35"><tspan dy="0">HCHO</tspan></text>
<text x="16.4" y="488.96" font-size="13.5" fill="#666666" font-weight="normal" font-style="normal" textLength="56.4" lengthAdjust="spacingAndGlyphs"><tspan dy="0">SINTESIS</tspan></text>
<ellipse cx="96" cy="547" rx="2.1" ry="2.6" fill="none" stroke="#ff00ff" stroke-width="1" shape-rendering="auto"/>
<line x1="95.1" y1="550.6" x2="95.7" y2="558.6" stroke="#ff00ff" stroke-width="1.0"/>
<line x1="97.7" y1="550.4" x2="98.3" y2="558.4" stroke="#ff00ff" stroke-width="1.0"/>
<text x="70.5" y="568.72" font-size="8.4" fill="#ff00ff" font-weight="normal" font-style="normal" textLength="13.1" lengthAdjust="spacingAndGlyphs" stroke="#ff00ff" stroke-width="0.35"><tspan dy="0">H</tspan><tspan font-size="6.72" dy="2.35">3</tspan><tspan dy="-2.35">C</tspan></text>
<polyline points="84.6,564.4 97,558.5 109.8,564.4" fill="none" stroke="#ff00ff" stroke-width="1.0" stroke-linejoin="round"/>
<text x="109.8" y="568.02" font-size="8.4" fill="#ff00ff" font-weight="normal" font-style="normal" textLength="15.4" lengthAdjust="spacingAndGlyphs" stroke="#ff00ff" stroke-width="0.35"><tspan dy="0">CH</tspan><tspan font-size="6.72" dy="2.35">3</tspan></text>
<line x1="132.4" y1="566.1" x2="139.4" y2="566.1" stroke="#000000" stroke-width="2"/>
<line x1="135.9" y1="562.6" x2="135.9" y2="569.6" stroke="#000000" stroke-width="2"/>
<text x="143.9" y="551.82" font-size="8.4" fill="#ff00ff" font-weight="normal" font-style="normal" textLength="4" lengthAdjust="spacingAndGlyphs" stroke="#ff00ff" stroke-width="0.35"><tspan dy="0">H</tspan></text>
<line x1="149.2" y1="551.1" x2="156.1" y2="554.7" stroke="#b000b0" stroke-width="1.0"/>
<text x="158" y="560.02" font-size="8.4" fill="#ff00ff" font-weight="normal" font-style="normal" textLength="3.6" lengthAdjust="spacingAndGlyphs" stroke="#ff00ff" stroke-width="0.35"><tspan dy="0">N</tspan></text>
<line x1="161.3" y1="548.1" x2="161.3" y2="552.4" stroke="#b000b0" stroke-width="1.0"/>
<line x1="161.5" y1="559.5" x2="161.5" y2="562.9" stroke="#b000b0" stroke-width="1.0"/>
<text x="159" y="545.62" font-size="8.4" fill="#ff00ff" font-weight="normal" font-style="normal" textLength="15.1" lengthAdjust="spacingAndGlyphs" stroke="#ff00ff" stroke-width="0.35"><tspan dy="0">CH</tspan><tspan font-size="6.72" dy="2.35">3</tspan></text>
<text x="159" y="569.62" font-size="8.4" fill="#ff00ff" font-weight="normal" font-style="normal" textLength="15.8" lengthAdjust="spacingAndGlyphs" stroke="#ff00ff" stroke-width="0.35"><tspan dy="0">CH</tspan><tspan font-size="6.72" dy="2.35">3</tspan></text>
<line x1="182.3" y1="563" x2="189.3" y2="563" stroke="#000000" stroke-width="2"/>
<line x1="185.8" y1="559.5" x2="185.8" y2="566.5" stroke="#000000" stroke-width="2"/>
<text x="198.8" y="560.12" font-size="8.4" fill="#ff00ff" font-weight="normal" font-style="normal" textLength="22.7" lengthAdjust="spacingAndGlyphs" stroke="#ff00ff" stroke-width="0.35"><tspan dy="0">HCHO</tspan></text>
<line x1="229.9" y1="559.5" x2="278.1" y2="559.5" stroke="#c000ff" stroke-width="1.0"/>
<polygon points="283.5,559.5 274.5,562.5 276.12,559.5 274.5,556.5" fill="#c000ff" stroke="#c000ff" stroke-width="0.5" stroke-linejoin="round"/>
<text x="241" y="553.32" font-size="8.4" fill="#0033cc" font-weight="bold" font-style="normal" textLength="32.5" lengthAdjust="spacingAndGlyphs"><tspan dy="0">R.Hofman</tspan></text>
<text x="239.5" y="571.02" font-size="8.4" fill="#0033cc" font-weight="bold" font-style="normal" textLength="35" lengthAdjust="spacingAndGlyphs"><tspan dy="0">R. Mannich</tspan></text>
<text x="284.6" y="562.02" font-size="8.4" fill="#ff00ff" font-weight="normal" font-style="normal" textLength="14.3" lengthAdjust="spacingAndGlyphs" stroke="#ff00ff" stroke-width="0.35"><tspan dy="0">H</tspan><tspan font-size="6.72" dy="2.35">3</tspan><tspan dy="-2.35">C</tspan></text>
<polyline points="300.7,557.4 312.1,552.8 327.1,558.5" fill="none" stroke="#ff00ff" stroke-width="1.0" stroke-linejoin="round"/>
<ellipse cx="311.6" cy="541" rx="2.1" ry="2.6" fill="none" stroke="#ff00ff" stroke-width="1" shape-rendering="auto"/>
<line x1="310.85" y1="545.3" x2="310.85" y2="552.8" stroke="#ff00ff" stroke-width="1.0"/>
<line x1="313.35" y1="545.3" x2="313.35" y2="552.8" stroke="#ff00ff" stroke-width="1.0"/>
<line x1="325.95" y1="558.5" x2="325.95" y2="566.6" stroke="#ff00ff" stroke-width="1.0"/>
<line x1="328.25" y1="558.5" x2="328.25" y2="566.6" stroke="#ff00ff" stroke-width="1.0"/>
<text x="324.8" y="574.52" font-size="8.4" fill="#ff00ff" font-weight="normal" font-style="normal" textLength="14.9" lengthAdjust="spacingAndGlyphs" stroke="#ff00ff" stroke-width="0.35"><tspan dy="0">CH</tspan><tspan font-size="6.72" dy="2.35">2</tspan></text>
<line x1="309.1" y1="589.2" x2="316.1" y2="589.2" stroke="#000000" stroke-width="2"/>
<line x1="312.6" y1="585.7" x2="312.6" y2="592.7" stroke="#000000" stroke-width="2"/>
<text x="299" y="602.42" font-size="6.72" fill="#ff00ff" font-weight="normal" font-style="normal" textLength="10.8" lengthAdjust="spacingAndGlyphs" stroke="#ff00ff" stroke-width="0.35"><tspan dy="0">H</tspan><tspan font-size="5.38" dy="1.88">3</tspan><tspan dy="-1.88">C</tspan></text>
<line x1="309" y1="602.5" x2="315.2" y2="605.8" stroke="#ff00ff" stroke-width="1.0"/>
<text x="296" y="615.42" font-size="6.72" fill="#ff00ff" font-weight="normal" font-style="normal" textLength="3.5" lengthAdjust="spacingAndGlyphs" stroke="#ff00ff" stroke-width="0.35"><tspan dy="0">H</tspan></text>
<line x1="300.5" y1="612" x2="315.2" y2="607" stroke="#ff00ff" stroke-width="1.0"/>
<line x1="314.9" y1="607.46" x2="325.2" y2="610.16" stroke="#ff00ff" stroke-width="1.0"/>
<line x1="315.5" y1="605.14" x2="325.8" y2="607.84" stroke="#ff00ff" stroke-width="1.0"/>
<ellipse cx="327.9" cy="609.4" rx="1.95" ry="2.41" fill="none" stroke="#ff00ff" stroke-width="1" shape-rendering="auto"/>
<polyline points="351.3,562.6 387.7,575.2 355,604.7" fill="none" stroke="#c000ff" stroke-width="1.0" stroke-linejoin="round"/>
<line x1="387.7" y1="575.2" x2="399.41" y2="574.6" stroke="#c000ff" stroke-width="1.0"/>
<polygon points="405.4,574.3 395.55,577.55 397.21,574.72 395.27,572.06" fill="#c000ff" stroke="#c000ff" stroke-width="0.5" stroke-linejoin="round"/>
<text x="371" y="599.52" font-size="8.4" fill="#0033cc" font-weight="bold" font-style="normal" textLength="21.8" lengthAdjust="spacingAndGlyphs"><tspan dy="0">EtoNa</tspan></text>
<text x="395.1" y="570.22" font-size="8.4" fill="#ff00ff" font-weight="normal" font-style="normal" textLength="12.8" lengthAdjust="spacingAndGlyphs" stroke="#ff00ff" stroke-width="0.35"><tspan dy="0">H</tspan><tspan font-size="6.72" dy="2.35">3</tspan><tspan dy="-2.35">C</tspan></text>
<ellipse cx="420.5" cy="548" rx="2.1" ry="2.6" fill="none" stroke="#ff00ff" stroke-width="1" shape-rendering="auto"/>
<line x1="420.7" y1="553.3" x2="420.7" y2="561" stroke="#ff00ff" stroke-width="1.0"/>
<line x1="422.9" y1="553.3" x2="422.9" y2="561" stroke="#ff00ff" stroke-width="1.0"/>
<polyline points="410,565.6 421.8,561.3 437.7,566.1 437.7,578.4 422.8,585.6 426,591.1" fill="none" stroke="#ff00ff" stroke-width="1.0" stroke-linejoin="round"/>
<line x1="425.69" y1="592.36" x2="440.19" y2="595.86" stroke="#ff00ff" stroke-width="1.0"/>
<line x1="426.31" y1="589.84" x2="440.81" y2="593.34" stroke="#ff00ff" stroke-width="1.0"/>
<ellipse cx="443.1" cy="594.9" rx="2.1" ry="2.6" fill="none" stroke="#ff00ff" stroke-width="1" shape-rendering="auto"/>
<text x="409.2" y="601.12" font-size="8.4" fill="#ff00ff" font-weight="normal" font-style="normal" textLength="3.8" lengthAdjust="spacingAndGlyphs" stroke="#ff00ff" stroke-width="0.35"><tspan dy="0">H</tspan></text>
<line x1="416.4" y1="596.3" x2="426" y2="591.5" stroke="#ff00ff" stroke-width="1.0"/>
<line x1="454.6" y1="577.2" x2="474.1" y2="576.59" stroke="#c000ff" stroke-width="1.0"/>
<polygon points="480.1,576.4 470.2,579.71 471.9,576.66 470.01,573.72" fill="#c000ff" stroke="#c000ff" stroke-width="0.5" stroke-linejoin="round"/>
<text x="446" y="563.72" font-size="8.4" fill="#0033cc" font-weight="bold" font-style="normal" textLength="40" lengthAdjust="spacingAndGlyphs"><tspan dy="0">EtoNa/EtOH</tspan></text>
<polygon points="507.8,567.5 522.9,573.9 523.5,584.9 507.8,591.3 492.2,584.9 492.2,573.3" fill="none" stroke="#ff00ff" stroke-width="1.0" stroke-linejoin="round"/>
<line x1="493.9" y1="575.6" x2="507.2" y2="570.3" stroke="#ff00ff" stroke-width="1.0"/>
<line x1="523.48" y1="575.06" x2="535.58" y2="569.06" stroke="#ff00ff" stroke-width="1.0"/>
<line x1="522.32" y1="572.74" x2="534.42" y2="566.74" stroke="#ff00ff" stroke-width="1.0"/>
<ellipse cx="537.4" cy="566.7" rx="2.1" ry="2.6" fill="none" stroke="#ff00ff" stroke-width="1" shape-rendering="auto"/>
<line x1="509.5" y1="598.2" x2="509.5" y2="613.7" stroke="#c000ff" stroke-width="1.0"/>
<polygon points="509.5,620.3 506.5,609.3 509.5,611.28 512.5,609.3" fill="#c000ff" stroke="#c000ff" stroke-width="0.5" stroke-linejoin="round"/>
<text x="516.3" y="613.62" font-size="8.4" fill="#0033cc" font-weight="bold" font-style="normal" textLength="27.6" lengthAdjust="spacingAndGlyphs"><tspan dy="0">H</tspan><tspan font-size="6.72" dy="2.35">2</tspan><tspan dy="-2.35">/Pb,C</tspan></text>
<polygon points="510.7,633 525.8,639.4 526.4,651.5 510.7,658.5 495.1,652.1 494.5,640" fill="none" stroke="#ff00ff" stroke-width="1.0" stroke-linejoin="round"/>
<line x1="526.35" y1="640.58" x2="538.45" y2="634.98" stroke="#ff00ff" stroke-width="1.0"/>
<line x1="525.25" y1="638.22" x2="537.35" y2="632.62" stroke="#ff00ff" stroke-width="1.0"/>
<ellipse cx="540.3" cy="632.6" rx="2.1" ry="2.6" fill="none" stroke="#ff00ff" stroke-width="1" shape-rendering="auto"/>
<line x1="489.4" y1="655.2" x2="459.35" y2="662.15" stroke="#c000ff" stroke-width="1.0"/>
<polygon points="453.5,663.5 462.45,657.84 461.49,661.65 464.03,664.66" fill="#c000ff" stroke="#c000ff" stroke-width="0.5" stroke-linejoin="round"/>
<text x="463" y="680.92" font-size="8.4" fill="#0033cc" font-weight="bold" font-style="normal" textLength="37.7" lengthAdjust="spacingAndGlyphs"><tspan dy="0">SeO2/calor</tspan></text>
<ellipse cx="424.5" cy="640.9" rx="2.1" ry="2.6" fill="none" stroke="#ff00ff" stroke-width="1" shape-rendering="auto"/>
<line x1="422.45" y1="646.2" x2="422.45" y2="653.6" stroke="#ff00ff" stroke-width="1.0"/>
<line x1="424.75" y1="646.2" x2="424.75" y2="653.6" stroke="#ff00ff" stroke-width="1.0"/>
<polygon points="422.9,653.6 441,657.9 440.5,670.2 422.9,676 407.5,668.6 410.1,656.8" fill="none" stroke="#ff00ff" stroke-width="1.0" stroke-linejoin="round"/>
<line x1="441.59" y1="659.06" x2="452.39" y2="653.56" stroke="#ff00ff" stroke-width="1.0"/>
<line x1="440.41" y1="656.74" x2="451.21" y2="651.24" stroke="#ff00ff" stroke-width="1.0"/>
<ellipse cx="454.3" cy="651" rx="2.1" ry="2.6" fill="none" stroke="#ff00ff" stroke-width="1" shape-rendering="auto"/>
<line x1="423.8" y1="691.3" x2="431" y2="691.3" stroke="#000000" stroke-width="1"/>
<line x1="427.4" y1="687.7" x2="427.4" y2="694.9" stroke="#000000" stroke-width="1"/>
<text x="410.7" y="719.82" font-size="8.4" fill="#ff00ff" font-weight="normal" font-style="normal" textLength="10.1" lengthAdjust="spacingAndGlyphs" stroke="#ff00ff" stroke-width="0.35"><tspan dy="0">HO</tspan></text>
<polyline points="421.3,713.8 423.4,705.3 428.2,704.3 438.4,703.2 442.6,711.7" fill="none" stroke="#ff00ff" stroke-width="1.0" stroke-linejoin="round"/>
<text x="440" y="718.22" font-size="8.4" fill="#ff00ff" font-weight="normal" font-style="normal" textLength="11.1" lengthAdjust="spacingAndGlyphs" stroke="#ff00ff" stroke-width="0.35"><tspan dy="0">OH</tspan></text>
<polyline points="403.7,670.4 378,690.3 407.3,714.1" fill="none" stroke="#c000ff" stroke-width="1.0" stroke-linejoin="round"/>
<line x1="378" y1="690.5" x2="372.9" y2="690.5" stroke="#c000ff" stroke-width="1.0"/>
<polygon points="366.3,690.5 377.3,687.25 375.32,690.5 377.3,693.75" fill="#c000ff" stroke="#c000ff" stroke-width="0.5" stroke-linejoin="round"/>
<line x1="323.74" y1="677.73" x2="327" y2="667.4" stroke="#ff00ff" stroke-width="1.0"/>
<line x1="327" y1="667.4" x2="342.5" y2="665.2" stroke="#ff00ff" stroke-width="1.0"/>
<line x1="342.5" y1="665.2" x2="346.48" y2="675.39" stroke="#ff00ff" stroke-width="1.0"/>
<line x1="345.16" y1="679.54" x2="334.4" y2="686.6" stroke="#ff00ff" stroke-width="1.0"/>
<line x1="334.4" y1="686.6" x2="325.36" y2="681.73" stroke="#ff00ff" stroke-width="1.0"/>
<ellipse cx="347.5" cy="678" rx="2.1" ry="2.6" fill="none" stroke="#ff00ff" stroke-width="1" shape-rendering="auto"/>
<ellipse cx="322.9" cy="680.4" rx="2.1" ry="2.6" fill="none" stroke="#ff00ff" stroke-width="1" shape-rendering="auto"/>
<polyline points="334.4,686.6 320.4,690.2 318.7,701.3 334.4,709.2 351.1,703.8 353.6,690.2 334.4,686.6" fill="none" stroke="#ff00ff" stroke-width="1.0" stroke-linejoin="round"/>
<line x1="353.6" y1="690.2" x2="357.8" y2="688.2" stroke="#ff00ff" stroke-width="1.0"/>
<ellipse cx="360.5" cy="687" rx="2.1" ry="2.6" fill="none" stroke="#ff00ff" stroke-width="1" shape-rendering="auto"/>
<line x1="330.1" y1="718.4" x2="338.7" y2="718.4" stroke="#000000" stroke-width="2"/>
<line x1="334.4" y1="714.1" x2="334.4" y2="722.7" stroke="#000000" stroke-width="2"/>
<ellipse cx="335.6" cy="730.1" rx="2.1" ry="2.6" fill="none" stroke="#ff00ff" stroke-width="1" shape-rendering="auto"/>
<line x1="334.45" y1="734.4" x2="334.45" y2="741.8" stroke="#ff00ff" stroke-width="1.0"/>
<line x1="336.75" y1="734.4" x2="336.75" y2="741.8" stroke="#ff00ff" stroke-width="1.0"/>
<text x="309.8" y="751.22" font-size="8.4" fill="#ff00ff" font-weight="normal" font-style="normal" textLength="13.2" lengthAdjust="spacingAndGlyphs" stroke="#ff00ff" stroke-width="0.35"><tspan dy="0">H</tspan><tspan font-size="6.72" dy="2.35">3</tspan><tspan dy="-2.35">C</tspan></text>
<polyline points="325.3,746.6 336.2,741.8 351.7,747.3" fill="none" stroke="#ff00ff" stroke-width="1.0" stroke-linejoin="round"/>
<line x1="350" y1="747.3" x2="350" y2="755.6" stroke="#ff00ff" stroke-width="1.0"/>
<line x1="352.2" y1="747.3" x2="352.2" y2="755.6" stroke="#ff00ff" stroke-width="1.0"/>
<text x="350" y="763.72" font-size="8.4" fill="#ff00ff" font-weight="normal" font-style="normal" textLength="14.9" lengthAdjust="spacingAndGlyphs" stroke="#ff00ff" stroke-width="0.35"><tspan dy="0">CH</tspan><tspan font-size="6.72" dy="2.35">2</tspan></text>
<polyline points="314.3,682.9 287.2,688.5 321.6,734.5" fill="none" stroke="#c000ff" stroke-width="1.0" stroke-linejoin="round"/>
<line x1="287.2" y1="688.5" x2="271.44" y2="684.78" stroke="#c000ff" stroke-width="1.0"/>
<polygon points="265.6,683.4 276.02,682.78 273.58,685.28 274.64,688.62" fill="#c000ff" stroke="#c000ff" stroke-width="0.5" stroke-linejoin="round"/>
<text x="271.2" y="708.02" font-size="8.4" fill="#0033cc" font-weight="bold" font-style="normal" textLength="19.8" lengthAdjust="spacingAndGlyphs"><tspan dy="0">EtoNa</tspan></text>
<polyline points="179.4,653.5 180.8,647.7 182.6,646.1 195.7,644.1 198.8,644.3 201.5,651.7" fill="none" stroke="#ff00ff" stroke-width="1.0" stroke-linejoin="round"/>
<line x1="182.1" y1="660.3" x2="189.3" y2="664.3" stroke="#ff00ff" stroke-width="1.0"/>
<line x1="189.3" y1="664.3" x2="197.5" y2="659.4" stroke="#ff00ff" stroke-width="1.0"/>
<ellipse cx="177.6" cy="657.9" rx="2.1" ry="2.6" fill="none" stroke="#ff00ff" stroke-width="1" shape-rendering="auto"/>
<ellipse cx="201.5" cy="656.2" rx="2.1" ry="2.6" fill="none" stroke="#ff00ff" stroke-width="1" shape-rendering="auto"/>
<polyline points="189.3,664.3 175.4,668 173.6,679.7 188,687.3 206.5,682.4 206.9,668.9 189.3,664.3" fill="none" stroke="#ff00ff" stroke-width="1.0" stroke-linejoin="round"/>
<line x1="206.9" y1="668.9" x2="211" y2="666.1" stroke="#ff00ff" stroke-width="1.0"/>
<ellipse cx="214.1" cy="666.1" rx="2.1" ry="2.6" fill="none" stroke="#ff00ff" stroke-width="1" shape-rendering="auto"/>
<polyline points="206.5,682.4 222.1,687.2 236.9,681.4 237.5,669.8" fill="none" stroke="#ff00ff" stroke-width="1.0" stroke-linejoin="round"/>
<line x1="237.5" y1="669.8" x2="235" y2="668.3" stroke="#ff00ff" stroke-width="1.0"/>
<ellipse cx="232.6" cy="664.4" rx="2.1" ry="2.6" fill="none" stroke="#ff00ff" stroke-width="1" shape-rendering="auto"/>
<line x1="237.5" y1="669.8" x2="254.1" y2="674.7" stroke="#ff00ff" stroke-width="1.0"/>
<text x="254.1" y="678.32" font-size="8.4" fill="#ff00ff" font-weight="normal" font-style="normal" textLength="13.5" lengthAdjust="spacingAndGlyphs" stroke="#ff00ff" stroke-width="0.35"><tspan dy="0">CH</tspan><tspan font-size="6.72" dy="2.35">3</tspan></text>
<line x1="168.5" y1="674.8" x2="143.67" y2="686.03" stroke="#c000ff" stroke-width="1.0"/>
<polygon points="138.2,688.5 145.87,681.19 145.67,685.12 148.75,687.57" fill="#c000ff" stroke="#c000ff" stroke-width="0.5" stroke-linejoin="round"/>
<text x="116.9" y="669.82" font-size="8.4" fill="#0033cc" font-weight="bold" font-style="normal" textLength="40.2" lengthAdjust="spacingAndGlyphs"><tspan dy="0">EtoNa/EtOH</tspan></text>
<line x1="85.07" y1="697.37" x2="88.3" y2="688.6" stroke="#ff00ff" stroke-width="1.0"/>
<line x1="88.3" y1="688.6" x2="105.2" y2="686.4" stroke="#ff00ff" stroke-width="1.0"/>
<line x1="105.2" y1="686.4" x2="108.01" y2="694.84" stroke="#ff00ff" stroke-width="1.0"/>
<line x1="106.68" y1="699.21" x2="96.4" y2="707.1" stroke="#ff00ff" stroke-width="1.0"/>
<line x1="96.4" y1="707.1" x2="86.52" y2="701.4" stroke="#ff00ff" stroke-width="1.0"/>
<ellipse cx="108.9" cy="697.5" rx="2.1" ry="2.6" fill="none" stroke="#ff00ff" stroke-width="1" shape-rendering="auto"/>
<ellipse cx="84.1" cy="700" rx="2.1" ry="2.6" fill="none" stroke="#ff00ff" stroke-width="1" shape-rendering="auto"/>
<polyline points="96.4,707.1 82.4,710 80.6,721.1 94.9,728.9 113.3,724.8 112.6,713 96.4,707.1" fill="none" stroke="#ff00ff" stroke-width="1.0" stroke-linejoin="round"/>
<polyline points="112.6,713 128.8,704.9 143.6,712.2 144.3,724 129.6,729.9 113.3,724.8" fill="none" stroke="#ff00ff" stroke-width="1.0" stroke-linejoin="round"/>
<line x1="116.3" y1="714.4" x2="128.1" y2="708.5" stroke="#ff00ff" stroke-width="1.0"/>
<line x1="144.2" y1="713.36" x2="156.4" y2="707.06" stroke="#ff00ff" stroke-width="1.0"/>
<line x1="143" y1="711.04" x2="155.2" y2="704.74" stroke="#ff00ff" stroke-width="1.0"/>
<ellipse cx="158.3" cy="704.9" rx="2.1" ry="2.6" fill="none" stroke="#ff00ff" stroke-width="1" shape-rendering="auto"/>
<line x1="103.9" y1="736" x2="103.46" y2="753" stroke="#c000ff" stroke-width="1.0"/>
<polygon points="103.3,759 100.56,748.93 103.51,750.8 106.56,749.08" fill="#c000ff" stroke="#c000ff" stroke-width="0.5" stroke-linejoin="round"/>
<text x="113.6" y="748.13" font-size="8.96" fill="#0033cc" font-weight="bold" font-style="normal" textLength="35.4" lengthAdjust="spacingAndGlyphs"><tspan dy="0">N</tspan><tspan font-size="7.17" dy="2.51">2</tspan><tspan dy="-2.51">H</tspan><tspan font-size="7.17" dy="2.51">4</tspan><tspan dy="-2.51">/HCl</tspan></text>
<text x="119.5" y="760.53" font-size="8.96" fill="#0033cc" font-weight="bold" font-style="normal" textLength="17.7" lengthAdjust="spacingAndGlyphs"><tspan dy="0">H</tspan><tspan font-size="7.17" dy="2.51">3</tspan><tspan dy="-2.51">O</tspan><tspan font-size="7.17" dy="-3.76">+</tspan></text>
<line x1="70.21" y1="781.33" x2="74.7" y2="770.9" stroke="#ff00ff" stroke-width="1.0"/>
<line x1="74.7" y1="770.9" x2="94.7" y2="768.2" stroke="#ff00ff" stroke-width="1.0"/>
<line x1="94.7" y1="768.2" x2="97.84" y2="779.31" stroke="#ff00ff" stroke-width="1.0"/>
<line x1="96.2" y1="783.45" x2="82.9" y2="791.5" stroke="#ff00ff" stroke-width="1.0"/>
<line x1="82.9" y1="791.5" x2="71.55" y2="785.25" stroke="#ff00ff" stroke-width="1.0"/>
<ellipse cx="98.6" cy="782" rx="2.1" ry="2.6" fill="none" stroke="#ff00ff" stroke-width="1" shape-rendering="auto"/>
<ellipse cx="69.1" cy="783.9" rx="2.1" ry="2.6" fill="none" stroke="#ff00ff" stroke-width="1" shape-rendering="auto"/>
<polyline points="82.9,791.5 66.6,795.2 64.4,808.5 82.1,816.6 104.2,811.9 103.5,798.2 82.9,791.5" fill="none" stroke="#ff00ff" stroke-width="1.0" stroke-linejoin="round"/>
<polyline points="104.2,797.5 122.7,790.8 140.8,796.3 141.1,809.2 123.4,816.9 104.2,811.9" fill="none" stroke="#ff00ff" stroke-width="1.0" stroke-linejoin="round"/>
<line x1="106.9" y1="799.7" x2="122" y2="793.3" stroke="#ff00ff" stroke-width="1.0"/>
<line x1="92.2" y1="833.5" x2="100.8" y2="833.5" stroke="#000000" stroke-width="1"/>
<line x1="96.5" y1="829.2" x2="96.5" y2="837.8" stroke="#000000" stroke-width="1"/>
<text x="61.7" y="865.96" font-size="11" fill="#ff00ff" font-weight="normal" font-style="normal" textLength="19.4" lengthAdjust="spacingAndGlyphs"><tspan dy="0">H</tspan><tspan font-size="8.8" dy="3.08">3</tspan><tspan dy="-3.08">C</tspan></text>
<polyline points="84.4,861.3 100.4,861.3 107.2,872.8" fill="none" stroke="#ff00ff" stroke-width="1.0" stroke-linejoin="round"/>
<text x="107.2" y="883.88" font-size="10.5" fill="#ff00ff" font-weight="normal" font-style="normal" textLength="19.7" lengthAdjust="spacingAndGlyphs"><tspan dy="0">NO</tspan><tspan font-size="8.4" dy="2.94">2</tspan></text>
<polyline points="157.4,802.6 194.2,819.1 141,874.8" fill="none" stroke="#c000ff" stroke-width="1.0" stroke-linejoin="round"/>
<line x1="194.2" y1="819.1" x2="216.4" y2="819.1" stroke="#c000ff" stroke-width="1.0"/>
<polygon points="223,819.1 212,821.6 213.98,819.1 212,816.6" fill="#c000ff" stroke="#c000ff" stroke-width="0.5" stroke-linejoin="round"/>
<text x="172" y="868.02" font-size="8.4" fill="#0033cc" font-weight="bold" font-style="normal" textLength="19.8" lengthAdjust="spacingAndGlyphs"><tspan dy="0">EtoNa</tspan></text>
<ellipse cx="245" cy="804.1" rx="2.1" ry="2.6" fill="none" stroke="#ff00ff" stroke-width="1" shape-rendering="auto"/>
<line x1="244.22" y1="807.72" x2="245.92" y2="817.42" stroke="#ff00ff" stroke-width="1.0"/>
<line x1="246.78" y1="807.28" x2="248.48" y2="816.98" stroke="#ff00ff" stroke-width="1.0"/>
<polyline points="267.9,818.9 247.2,817.2 235.1,820.5 235.1,832 255.4,837.9 273.4,830.3 267.9,818.9 280,810.7 299.7,813 306.2,825.4 291.5,832.6 273.4,830.3" fill="none" stroke="#ff00ff" stroke-width="1.0" stroke-linejoin="round"/>
<line x1="280" y1="810.7" x2="278.4" y2="799.2" stroke="#ff00ff" stroke-width="1.0"/>
<text x="253.8" y="799.72" font-size="7.84" fill="#ff00ff" font-weight="normal" font-style="normal" textLength="11.4" lengthAdjust="spacingAndGlyphs" stroke="#ff00ff" stroke-width="0.35"><tspan dy="0">H</tspan><tspan font-size="6.27" dy="2.2">3</tspan><tspan dy="-2.2">C</tspan></text>
<line x1="266.9" y1="797.5" x2="278.4" y2="799.2" stroke="#ff00ff" stroke-width="1.0"/>
<line x1="278.4" y1="799.2" x2="294.8" y2="782.8" stroke="#ff00ff" stroke-width="1.0"/>
<text x="296.4" y="781.72" font-size="7.84" fill="#ff00ff" font-weight="normal" font-style="normal" textLength="14.1" lengthAdjust="spacingAndGlyphs" stroke="#ff00ff" stroke-width="0.35"><tspan dy="0">NO2</tspan></text>
<path d="M276.5,802.5 C275.5,804.5 277,806 279,805 L283,803.5 C285,803 286.6,804 286.6,805.7" fill="none" stroke="#000" stroke-width="1"/>
<line x1="317" y1="809" x2="352.74" y2="813.29" stroke="#c000ff" stroke-width="1.0"/>
<polygon points="358.7,814 348.35,816.28 350.56,813.02 349.19,809.33" fill="#c000ff" stroke="#c000ff" stroke-width="0.5" stroke-linejoin="round"/>
<text x="324.3" y="828.62" font-size="7.28" fill="#888888" font-weight="normal" font-style="normal" textLength="37.7" lengthAdjust="spacingAndGlyphs"><tspan dy="0">H2SO4/MeOH</tspan></text>
<text x="379.8" y="788.62" font-size="8.4" fill="#ff00ff" font-weight="normal" font-style="normal" textLength="12.8" lengthAdjust="spacingAndGlyphs" stroke="#ff00ff" stroke-width="0.35"><tspan dy="0">H</tspan><tspan font-size="6.72" dy="2.35">3</tspan><tspan dy="-2.35">C</tspan></text>
<line x1="392.6" y1="786.4" x2="409.7" y2="789" stroke="#ff00ff" stroke-width="1.0"/>
<line x1="410.81" y1="789.67" x2="415.61" y2="781.67" stroke="#ff00ff" stroke-width="1.0"/>
<line x1="408.59" y1="788.33" x2="413.39" y2="780.33" stroke="#ff00ff" stroke-width="1.0"/>
<ellipse cx="416.1" cy="777.5" rx="2.1" ry="2.6" fill="none" stroke="#ff00ff" stroke-width="1" shape-rendering="auto"/>
<line x1="409.7" y1="789" x2="420.3" y2="801.8" stroke="#ff00ff" stroke-width="1.0"/>
<polyline points="405.4,811.2 420.3,801.8 439.5,802.6 445.9,817.5 433.1,827.3 413.1,826 405.4,811.2 384.1,810.3 369.2,814.6 370.5,828.2 390.5,833.3 413.1,826" fill="none" stroke="#ff00ff" stroke-width="1.0" stroke-linejoin="round"/>
<ellipse cx="379.8" cy="795" rx="2.1" ry="2.6" fill="none" stroke="#ff00ff" stroke-width="1" shape-rendering="auto"/>
<line x1="379.26" y1="798.88" x2="382.86" y2="810.68" stroke="#ff00ff" stroke-width="1.0"/>
<line x1="381.74" y1="798.12" x2="385.34" y2="809.92" stroke="#ff00ff" stroke-width="1.0"/>
<line x1="460" y1="807.7" x2="508.1" y2="807.7" stroke="#c000ff" stroke-width="1.0"/>
<polygon points="514.1,807.7 504.1,811.2 505.9,807.7 504.1,804.2" fill="#c000ff" stroke="#c000ff" stroke-width="0.5" stroke-linejoin="round"/>
<text x="458.7" y="795.02" font-size="8.4" fill="#0033cc" font-weight="bold" font-style="normal" textLength="41.3" lengthAdjust="spacingAndGlyphs"><tspan dy="0">EtoNa/EtOH</tspan></text>
<polyline points="547.3,803.2 553.2,792.1 571.6,792.1 577.5,804.7" fill="none" stroke="#ff00ff" stroke-width="1.0" stroke-linejoin="round"/>
<line x1="547.3" y1="803.2" x2="561.3" y2="809.8" stroke="#ff00ff" stroke-width="1.0"/>
<line x1="577.5" y1="804.7" x2="561.3" y2="809.8" stroke="#ff00ff" stroke-width="1.0"/>
<line x1="561.3" y1="809.8" x2="561.3" y2="821.6" stroke="#ff00ff" stroke-width="1.0"/>
<polyline points="547.3,803.2 528.1,806.9 526.6,818 540.7,826.1 561.3,821.6" fill="none" stroke="#ff00ff" stroke-width="1.0" stroke-linejoin="round"/>
<polyline points="577.5,804.7 593.8,809.1 593.8,821.6 579,826.8 561.3,821.6" fill="none" stroke="#ff00ff" stroke-width="1.0" stroke-linejoin="round"/>
<line x1="555.4" y1="795.1" x2="551.7" y2="800.2" stroke="#ff00ff" stroke-width="1.0"/>
<line x1="572.35" y1="793.16" x2="581.75" y2="786.56" stroke="#ff00ff" stroke-width="1.0"/>
<line x1="570.85" y1="791.04" x2="580.25" y2="784.44" stroke="#ff00ff" stroke-width="1.0"/>
<ellipse cx="583.4" cy="783" rx="2.1" ry="2.6" fill="none" stroke="#ff00ff" stroke-width="1" shape-rendering="auto"/>
<line x1="568.5" y1="838.9" x2="568.5" y2="855.1" stroke="#c000ff" stroke-width="1.0"/>
<polygon points="568.5,861.1 565.5,851.1 568.5,852.9 571.5,851.1" fill="#c000ff" stroke="#c000ff" stroke-width="0.5" stroke-linejoin="round"/>
<text x="581.2" y="853.42" font-size="8.4" fill="#0033cc" font-weight="bold" font-style="normal" textLength="27" lengthAdjust="spacingAndGlyphs"><tspan dy="0">H</tspan><tspan font-size="6.72" dy="2.35">2</tspan><tspan dy="-2.35">/Pb,c</tspan></text>
<polyline points="555.4,881 561.3,870.7 579.8,870.7 585.7,883.2" fill="none" stroke="#ff00ff" stroke-width="1.0" stroke-linejoin="round"/>
<line x1="555.4" y1="881" x2="569.4" y2="887.6" stroke="#ff00ff" stroke-width="1.0"/>
<line x1="585.7" y1="883.2" x2="569.4" y2="887.6" stroke="#ff00ff" stroke-width="1.0"/>
<line x1="569.4" y1="887.6" x2="569.4" y2="900.2" stroke="#ff00ff" stroke-width="1.0"/>
<polyline points="555.4,881 535.5,884.7 534.5,895.8 551,903.9 569.4,900.2" fill="none" stroke="#ff00ff" stroke-width="1.0" stroke-linejoin="round"/>
<polyline points="585.7,883.2 601.9,887.6 601.9,899.4 584.9,905 569.4,900.2" fill="none" stroke="#ff00ff" stroke-width="1.0" stroke-linejoin="round"/>
<line x1="580.5" y1="871.8" x2="590.2" y2="865.6" stroke="#ff00ff" stroke-width="1.0"/>
<line x1="579.1" y1="869.6" x2="588.8" y2="863.4" stroke="#ff00ff" stroke-width="1.0"/>
<ellipse cx="591.6" cy="861.1" rx="2.1" ry="2.6" fill="none" stroke="#ff00ff" stroke-width="1" shape-rendering="auto"/>
<line x1="523.8" y1="884.8" x2="483.1" y2="884.8" stroke="#c000ff" stroke-width="1.0"/>
<polygon points="477.1,884.8 487.1,881.3 485.3,884.8 487.1,888.3" fill="#c000ff" stroke="#c000ff" stroke-width="0.5" stroke-linejoin="round"/>
<text x="485.7" y="872.42" font-size="8.4" fill="#0033cc" font-weight="bold" font-style="normal" textLength="22.2" lengthAdjust="spacingAndGlyphs"><tspan dy="0">LiAlH</tspan><tspan font-size="6.72" dy="2.35">4</tspan></text>
<polyline points="411.5,879.2 416.9,867.6 436.6,868.1 441,880.4" fill="none" stroke="#ff00ff" stroke-width="1.0" stroke-linejoin="round"/>
<line x1="411.5" y1="879.2" x2="426" y2="884.8" stroke="#ff00ff" stroke-width="1.0"/>
<polygon points="441,880.4 425.66,883.65 426.34,885.95" fill="#ff00ff" stroke="#ff00ff" stroke-width="0.6" stroke-linejoin="round"/>
<line x1="426" y1="884.8" x2="425.5" y2="897.1" stroke="#ff00ff" stroke-width="1.0"/>
<polyline points="411.5,879.2 392.3,882.9 389.8,894.7 404.6,902.1 425.5,897.1" fill="none" stroke="#ff00ff" stroke-width="1.0" stroke-linejoin="round"/>
<polyline points="441,880.4 458.2,885.3 458.2,897.6 442.7,903 425.5,897.1" fill="none" stroke="#ff00ff" stroke-width="1.0" stroke-linejoin="round"/>
<line x1="436.6" y1="868.1" x2="444.4" y2="862" stroke="#ff00ff" stroke-width="1.0"/>
<text x="445.2" y="862.02" font-size="8.4" fill="#ff00ff" font-weight="normal" font-style="normal" textLength="11" lengthAdjust="spacingAndGlyphs" stroke="#ff00ff" stroke-width="0.35"><tspan dy="0">OH</tspan></text>
</svg></body></html>
